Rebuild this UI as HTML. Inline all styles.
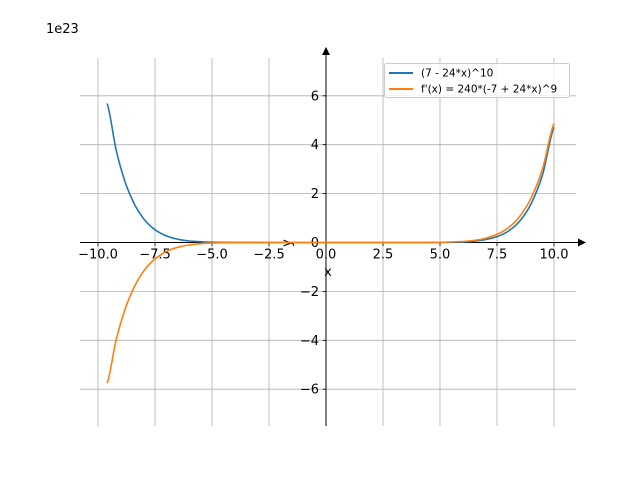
<!DOCTYPE html>
<html><head><meta charset="utf-8"><style>
html,body{margin:0;padding:0;background:#fff;}
svg{display:block;font-family:"DejaVu Sans","Liberation Sans",sans-serif;}
</style></head><body>
<svg id="chart" width="640" height="480" viewBox="0 0 640 480">
<rect width="640" height="480" fill="#fff"/>
<g id="grid"></g>
<g id="axes"></g>
<g id="series"></g>
<text x="46" y="33" font-size="13">1e23</text>
<g>
<rect x="384.5" y="63.5" width="185" height="34" fill="#fff" fill-opacity="0.8" stroke="#ccc" rx="2"/>
<line x1="389" y1="73" x2="413" y2="73" stroke="#1f77b4" stroke-width="2"/>
<text x="421" y="76.5" font-size="10.5">(7 - 24*x)^10</text>
<line x1="389" y1="89" x2="413" y2="89" stroke="#ff7f0e" stroke-width="2"/>
<text x="421" y="92.5" font-size="10.5">f'(x) = 240*(-7 + 24*x)^9</text>
</g>
</svg>
<script>
const xValues = [-9.6,-9.2,-8.8,-8.4,-8.0,-7.6,-7.2,-6.8,-6.4,-6.0,-5.2,-4.0,-2.0,0.0,2.0,4.0,5.0,6.0,6.5,7.0,7.5,8.0,8.5,9.0,9.5,10.0];
const fValues = [5.686,3.763,2.446,1.561,0.9738,0.5937,0.3530,0.2042,0.1141,0.0615,0.0158,0.0013,0,0,0,0.0002,0.0034,0.0233,0.0539,0.1170,0.2389,0.4649,0.8803,1.591,2.782,4.72];
const dfValues = [-5.749,-3.965,-2.690,-1.796,-1.174,-0.7523,-0.4712,-0.2879,-0.1705,-0.0977,-0.0288,-0.0031,0,0,0,0.0004,0.0072,0.0408,0.0868,0.1744,0.3314,0.6031,1.072,1.827,3.021,4.862];
const xTicks = [-10,-7.5,-5,-2.5,0,2.5,5,7.5,10];
const xTickLabels = ["−10.0","−7.5","−5.0","−2.5","0.0","2.5","5.0","7.5","10.0"];
const yTicks = [-6,-4,-2,0,2,4,6];
const yTickLabels = ["−6","−4","−2","0","2","4","6"];

const NS="http://www.w3.org/2000/svg";
const X=v=>326+v*22.8;
const Y=v=>242.5-v*24.45;
const L=80,R=576,T=58,B=426;
function mk(tag,attrs,parent){const e=document.createElementNS(NS,tag);for(const k in attrs)e.setAttribute(k,attrs[k]);parent.appendChild(e);return e;}
const grid=document.getElementById('grid'),axes=document.getElementById('axes'),series=document.getElementById('series');
xTicks.forEach((t,i)=>{
  const g=mk('line',{x1:X(t),x2:X(t),y1:T,y2:B,stroke:'#b0b0b0','stroke-width':0.8},grid);
  
  
  const tk=mk('line',{x1:X(t),x2:X(t),y1:242.5,y2:246,stroke:'#000','stroke-width':0.8},axes);
  
  
  const tx=mk('text',{x:X(t),y:258.5,'font-size':13,'text-anchor':'middle'},axes);
  tx.textContent=xTickLabels[i];
  
  
});
yTicks.forEach((t,i)=>{
  const g=mk('line',{x1:L,x2:R,y1:Y(t),y2:Y(t),stroke:'#b0b0b0','stroke-width':0.8},grid);
  
  
  const tk=mk('line',{x1:322.5,x2:326,y1:Y(t),y2:Y(t),stroke:'#000','stroke-width':0.8},axes);
  
  
  const tx=mk('text',{x:319,y:Y(t)+4.5,'font-size':13,'text-anchor':'end'},axes);
  tx.textContent=yTickLabels[i];
  
  
});
const xa=mk('line',{x1:L,x2:581,y1:242.5,y2:242.5,stroke:'#000','stroke-width':1},axes);


const xar=mk('path',{d:'M586,242.5 L578,238.5 L578,246.5 Z',fill:'#000'},axes);


const ya=mk('line',{x1:326,x2:326,y1:B,y2:52,stroke:'#000','stroke-width':1},axes);


const yar=mk('path',{d:'M326,47 L322,55 L330,55 Z',fill:'#000'},axes);


const xl=mk('text',{x:328,y:276,'font-size':13,'text-anchor':'middle'},axes);
xl.textContent='x';


const yl=mk('text',{x:0,y:0,'font-size':13,'text-anchor':'middle',transform:'translate(291,243) rotate(-90)'},axes);
yl.textContent='y';


function line(vals,color,name){
  const pts=vals.map((v,i)=>[X(xValues[i]),Y(v)]);
  let d='M'+pts[0][0].toFixed(2)+','+pts[0][1].toFixed(2);
  for(let i=0;i<pts.length-1;i++){
    const p0=pts[Math.max(0,i-1)],p1=pts[i],p2=pts[i+1],p3=pts[Math.min(pts.length-1,i+2)];
    let c1y=p1[1]+(p2[1]-p0[1])/6, c2y=p2[1]-(p3[1]-p1[1])/6;
    const lo=Math.min(p1[1],p2[1]),hi=Math.max(p1[1],p2[1]);
    c1y=Math.min(hi,Math.max(lo,c1y)); c2y=Math.min(hi,Math.max(lo,c2y));
    const c1x=p1[0]+(p2[0]-p1[0])/3, c2x=p2[0]-(p2[0]-p1[0])/3;
    d+=' C'+c1x.toFixed(2)+','+c1y.toFixed(2)+' '+c2x.toFixed(2)+','+c2y.toFixed(2)+' '+p2[0].toFixed(2)+','+p2[1].toFixed(2);
  }
  const p=mk('path',{d:d,fill:'none',stroke:color,'stroke-width':1.6,'stroke-linejoin':'round'},series);
  
  
}
line(fValues,'#1f77b4','series-f');
line(dfValues,'#ff7f0e','series-df');
</script>
</body></html>
